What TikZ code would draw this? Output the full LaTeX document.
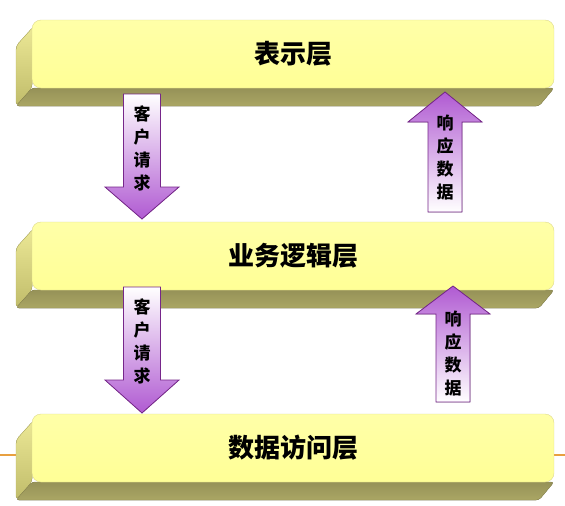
\documentclass[tikz,border=0pt]{standalone}
\usepackage{fontspec}
\newfontfamily\cjk{Noto Sans CJK SC}
\usetikzlibrary{positioning}
\definecolor{layerTop}{RGB}{255,255,168}
\definecolor{layerMid}{RGB}{255,255,242}
\definecolor{layerBottom}{RGB}{255,255,150}
\definecolor{layerEdge}{RGB}{222,218,140}
\definecolor{sideLight}{RGB}{236,232,150}
\definecolor{sideMid}{RGB}{192,188,106}
\definecolor{sideDark}{RGB}{150,146,88}
\definecolor{sideLow}{RGB}{170,166,100}
\definecolor{arrowPurple}{RGB}{176,90,210}
\definecolor{arrowEdge}{RGB}{118,38,138}
\definecolor{slideLine}{RGB}{232,160,64}
\tikzset{
    layer/.style={rectangle, rounded corners=9pt, inner sep=0pt,
        minimum width=522pt, minimum height=68pt,
        top color=layerTop, middle color=layerMid, bottom color=layerBottom,
        draw=layerEdge,
        font=\cjk\bfseries\fontsize{26}{30}\selectfont},
    sideface/.style={top color=sideLight, bottom color=sideMid, draw=sideMid},
    bottomface/.style={top color=sideDark, bottom color=sideLow, draw=sideDark},
    blockdown/.style={draw=arrowEdge, line width=0.8pt, line join=miter,
        top color=white, bottom color=arrowPurple},
    blockup/.style={draw=arrowEdge, line width=0.8pt, line join=miter,
        top color=arrowPurple, bottom color=white},
    vlabel/.style={inner sep=0pt, align=center,
        font=\cjk\bfseries\fontsize{17}{23}\selectfont}
}
\begin{document}
\begin{tikzpicture}[x=1pt, y=-1pt]
    \useasboundingbox[fill=white] (0, 0) rectangle (565, 506);
    \draw[slideLine, line width=1.2pt] (0, 455) -- (565, 455);
    \foreach \n/\y/\t in {1/20/表示层, 2/222/业务逻辑层, 3/414/数据访问层} {
        \filldraw[sideface, rounded corners=4pt]
            (34, \y+6) -- (16, \y+26) -- (16, \y+86) -- (32, \y+68) -- cycle;
        \filldraw[bottomface, rounded corners=3pt]
            (16, \y+86) -- (539, \y+86) -- (554, \y+68) -- (32, \y+68) -- cycle;
        \node[layer] (layer\n) at (293, \y+34) {\t};
    }
    \foreach \cx/\t/\hb/\tp/\ty [count=\i] in {142/94/187/219/148, 142/287/380/413/341} {
        \filldraw[blockdown]
            (\cx-18.5, \t) -- (\cx+18.5, \t) -- (\cx+18.5, \hb) -- (\cx+37, \hb)
            -- (\cx, \tp) -- (\cx-37, \hb) -- (\cx-18.5, \hb) -- cycle;
        \node[vlabel] (req\i) at (\cx, \ty) {客\\户\\请\\求};
    }
    \foreach \cx/\tp/\hb/\b/\ty [count=\i] in {445/92/122/212/158, 453/286/314/402/354} {
        \filldraw[blockup]
            (\cx, \tp) -- (\cx+37, \hb) -- (\cx+17, \hb) -- (\cx+17, \b)
            -- (\cx-17, \b) -- (\cx-17, \hb) -- (\cx-37, \hb) -- cycle;
        \node[vlabel] (resp\i) at (\cx, \ty) {响\\应\\数\\据};
    }
\end{tikzpicture}
\end{document}
